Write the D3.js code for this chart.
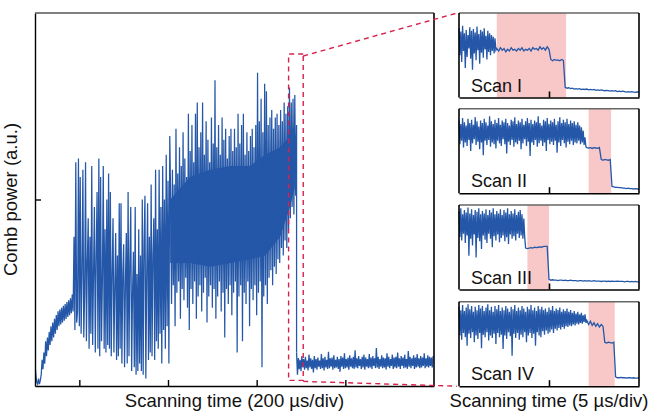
<!DOCTYPE html>
<html>
<head>
<meta charset="utf-8">
<script src="https://cdnjs.cloudflare.com/ajax/libs/d3/7.8.5/d3.min.js"></script>
<style>
  body { margin: 0; background: #fff; }
  text { font-family: "Liberation Sans", Arial, sans-serif; fill: #111; }
</style>
</head>
<body>
<div id="chart"></div>
<script>
// ---- main trace (time in µs, comb power in a.u.) ----
var rampStart = 0, rampStep = 2;
var rampPower = [6, 3, 1, 0.5, 2, 0.5, 1.5, 3, 7, 4.5, 9, 6, 12, 8, 13, 9.5, 14.5, 11, 16, 12,
  17, 13, 18, 14, 19, 15, 20, 16, 20.5, 16.5, 21, 17, 21.5, 17.5, 22, 18, 22.5, 18.5, 23, 19,
  23.5, 19.5, 24.5, 20];

var spikeStart = 88, spikeStep = 2;
var spikePower = [
  40, 15, 60, 17, 20, 61, 16, 56, 14, 30, 58, 13, 25, 60, 12, 33, 45, 10, 40, 14,
  59, 11, 30, 48, 9, 35, 52, 10, 61, 8, 56, 12, 28, 59, 10, 42, 9, 50, 11, 57,
  10, 52, 8, 30, 45, 9, 26, 41, 7, 35, 8, 49, 10, 49, 6, 30, 38, 5, 28, 41,
  6, 52, 8, 33, 48, 4, 25, 36, 5, 48, 3, 30, 4, 42, 6,
  35, 4, 50, 3, 38, 51, 2, 30, 49, 7, 40, 9, 54, 8, 35, 45, 7, 58, 12, 42,
  10, 58, 14, 48, 6, 59, 15, 50, 10, 62, 16, 55, 6, 67,
  50, 22, 58, 27, 54, 16, 69, 25, 57, 28, 64, 18, 59, 26, 68, 23, 61, 29, 56, 21,
  73, 15, 63, 26, 70, 22, 60, 28, 73, 18, 76, 24, 64, 27, 68, 20, 76, 25, 62, 29,
  71, 17, 66, 24, 60, 27, 72, 21, 65, 26, 82, 18, 64, 24, 70, 28, 62, 20, 72, 25,
  66, 13, 69, 26, 61, 22, 67, 27, 69, 19, 63, 25, 69, 28, 64, 9, 73, 24, 65, 27,
  70, 12, 73, 25, 62, 22, 68, 28, 63, 16, 67, 26, 69, 23, 64, 27, 70, 19, 84, 25,
  71, 28, 77, 5, 68, 24, 81, 27, 79, 22, 70, 29, 72, 31, 74, 27, 69, 32, 72, 30,
  73, 34, 70, 33, 74, 37, 71, 35, 76, 39, 73, 37, 75, 42, 80, 45, 76, 48, 77, 46,
  78, 51, 70];

// dense core of the oscillating part (hidden under the spikes)
var coreTimes = [305, 350, 395, 440, 485, 519, 553, 575, 586];
var coreUpper = [50, 56, 58, 59, 59, 62, 64, 67, 70];
var coreLower = [33, 33, 32, 33, 34, 35, 40, 48, 53];

var floorStart = 590, floorStep = 2;
var floorPower = [9, 3, 7.5, 4.5, 7, 4, 8, 5, 7.2, 4.4, 7.8, 4.8, 6.8, 4.2, 8.4, 5, 7.4, 4.6, 7, 3.6,
  8, 4.8, 7.2, 4.4, 7.6, 5.2, 6.8, 4.6, 8.6, 4.8, 7.4, 4.2, 7.8, 5, 7, 4.6, 9.2, 4.8, 7.4, 5.2,
  7.6, 4.4, 8.2, 4.8, 7, 5, 7.8, 4.6, 7.2, 3.8, 8, 5.2, 7.6, 4.6, 8.8, 4.8, 7.2, 5, 7.6, 4.4,
  8.2, 5.2, 7.4, 4.8, 7.8, 4.6, 9.6, 5, 7.4, 4.8, 8, 5.4, 7.2, 4.6, 7.8, 5, 8.4, 4.4, 7.6, 5.2,
  7.2, 4.8, 8.6, 5, 7.6, 4.6, 8, 5.4, 7.4, 4.8, 10.2, 5, 7.8, 4.6, 7.2, 5.2, 8.2, 4.8, 7.6, 5,
  7.4, 4.4, 8.8, 5.2, 7.8, 4.8, 7.2, 5.4, 8.4, 4.6, 7.6, 5, 7.8, 4.8, 9, 5.2, 7.4, 4.6, 8, 5.4,
  7.6, 4.8, 8.4, 5, 7.2, 4.6, 9.4, 5.2, 7.8, 4.8, 7.4, 5.4, 8.2, 4.6, 7.6, 5, 8.6, 5.2, 7.4, 4.8,
  8, 5, 7.6, 5.4, 8.8, 4.8, 7.4, 5.2, 8.2, 5, 7.8, 5.4, 7.6, 5, 8];

var mainTimeTicks = [100, 300, 500, 700];
var mainPowerTicks = [50];
var zoomTimes = [572, 605];
var zoomPowers = [1.5, 89];

// ---- zoomed scans (time in µs, normalised power) ----
var scanNames = ["Scan I", "Scan II", "Scan III", "Scan IV"];
var noiseStep = 0.1;   // fast sampled noisy part
var tailStep = 0.2;    // plateaus and floor after it

var scanINoise = [82, 50, 78, 42, 85, 55, 76, 35, 80, 48, 74, 58, 83, 46, 79, 33, 81, 52, 77, 44,
  84, 56, 75, 40, 80, 53, 78, 47, 82, 57, 73, 45, 79, 54, 76, 50, 74, 55, 72, 52,
  70, 56];
var scanITail = [58, 55, 59, 56, 58, 54, 57, 55, 59, 56, 57, 55, 58, 56, 59, 55, 57, 56, 58, 55,
  59, 57, 58, 56, 60, 57, 59, 56, 60, 57,
  45, 43.5, 45, 44, 44.5, 43.5, 45, 44,
  12, 11, 11.5, 10.5, 11, 10, 10.5, 10, 10.5, 9.5, 10, 9.5, 10, 9, 9.5, 9, 9.5, 8.5, 9, 8.5,
  9, 8.5, 8, 8.5, 8, 7.5, 8, 7.5, 8, 7, 7.5, 7, 7.5, 7, 6.5, 7, 6.5, 7, 6.5, 6, 6.5, 6.5];

var scanIINoise = [86, 58, 82, 62, 89, 54, 84, 60, 80, 56, 88, 63, 83, 50, 87, 59, 81, 64, 90, 57,
  85, 61, 79, 52, 86, 60, 83, 45, 88, 62, 84, 57, 80, 63, 91, 55, 85, 60, 82, 58,
  87, 53, 83, 62, 89, 59, 81, 56, 86, 64, 84, 58, 88, 47, 83, 61, 80, 57, 87, 63,
  85, 55, 90, 60, 82, 58, 86, 62, 84, 52, 88, 59, 81, 64, 85, 56, 89, 61, 83, 44,
  87, 60, 82, 57, 86, 63, 84, 55, 91, 59, 83, 62, 80, 56, 87, 60, 85, 50, 89, 63,
  82, 58, 86, 61, 84, 57, 88, 62, 81, 48, 85, 60, 90, 56, 83, 63, 87, 59, 84, 54,
  88, 61, 82, 58, 86, 62, 83, 57, 85, 60, 81, 59, 84, 62, 80, 58, 78, 60, 74, 57,
  66, 55];
var scanIITail = [54, 53.5, 54, 53, 54, 53.5, 53, 54,
  40, 39, 40, 39.5, 39, 40,
  8, 7.5, 7, 7, 6.5, 6.5, 6, 6, 5.5, 6, 5.5, 5.5, 5, 5.5, 5, 5];

var scanIIINoise = [93, 62, 96, 58, 89, 66, 94, 55, 91, 64, 97, 40, 90, 60, 95, 52, 88, 65, 94, 38,
  92, 61, 96, 57, 89, 48, 93, 64, 90, 59, 95, 55, 88, 66, 94, 60, 91, 50, 96, 63,
  89, 58, 93, 65, 90, 56, 95, 61, 88, 64, 94, 57, 91, 62, 96, 54, 89, 65, 93, 60,
  90, 63, 95, 58, 88, 66, 92, 61, 94, 64, 89, 60, 84, 62];
var scanIIITail = [49, 48.5, 49, 49.5, 49, 50, 49.5, 50, 50.5, 50, 51, 51, 51,
  12, 11, 11.5, 11, 11, 10.5, 11, 11, 10.5, 11, 10.5, 10.5, 11, 10.5, 10.5, 10.5, 10, 10.5, 10.5, 10,
  10.5, 10, 10.5, 10, 10, 10.5, 10, 10, 10, 9.5, 10, 10, 9.5, 10, 9.5, 10, 9.5, 9.5, 10, 9.5,
  9.5, 9.5, 9, 9.5, 9.5, 9, 9.5, 9, 9.5, 9, 9];

var scanIVNoise = [94, 60, 90, 55, 96, 63, 89, 58, 93, 48, 97, 62, 91, 57, 95, 64, 88, 52, 94, 60,
  90, 56, 96, 63, 92, 45, 95, 61, 89, 58, 93, 64, 97, 54, 90, 60, 94, 57, 88, 62,
  95, 50, 91, 63, 96, 58, 89, 61, 93, 44, 90, 60, 95, 56, 92, 64, 88, 59, 94, 36,
  91, 62, 96, 57, 89, 63, 93, 55, 90, 61, 95, 58, 92, 64, 88, 52, 94, 60, 91, 63,
  96, 57, 90, 62, 93, 48, 89, 64, 95, 60, 91, 58, 94, 65, 90, 61, 92, 66, 88, 62,
  93, 64, 90, 67, 95, 63, 89, 68, 92, 66, 90, 69, 93, 67, 88, 70, 91, 68, 89, 71,
  92, 70, 88, 72, 90, 71, 87, 73, 89, 72, 86, 74, 88, 73, 85, 75, 87, 74, 84, 76,
  85, 75];
var scanIVTail = [78, 73, 77, 72, 75, 71, 74, 70, 73, 71,
  52, 51, 52, 51.5, 51, 52,
  11, 10, 10, 10.5, 10, 10, 9.5, 10, 10, 9.5, 10, 9.5, 9.5, 10];

var scanNoise = [scanINoise, scanIINoise, scanIIINoise, scanIVNoise];
var scanTails = [scanITail, scanIITail, scanIIITail, scanIVTail];
var scanShade = [[4.2, 11.9], [14.4, 16.9], [7.6, 10.0], [14.4, 17.3]];
var scanTimeTicks = [10];

// ---- layout ----
var svgWidth = 649;
var svgHeight = 412;
var main = { left: 35, top: 13, width: 399, height: 373 };
var small = { left: 459, width: 180, height: 84.5, tops: [13, 108.7, 205, 301.7] };

var traceColor = "#2457a8";
var zoomColor = "#d8204c";

var svg = d3.select("#chart")
  .append("svg")
  .attr("width", svgWidth)
  .attr("height", svgHeight);

// main panel
var xMain = d3.scaleLinear().domain([0, 900]).range([0, main.width]);
var yMain = d3.scaleLinear().domain([0, 100]).range([main.height, 0]);

var mainGroup = svg.append("g")
  .attr("transform", `translate(${main.left}, ${main.top})`);

svg.append("defs").append("clipPath")
  .attr("id", "mainClip")
  .append("rect")
  .attr("width", main.width)
  .attr("height", main.height + 1);

var risePoints = [];
rampPower.forEach(function(v, i) { risePoints.push([rampStart + i * rampStep, v]); });
spikePower.forEach(function(v, i) { risePoints.push([spikeStart + i * spikeStep, v]); });
risePoints.push([floorStart, floorPower[0]]);

var floorPoints = floorPower.map((v, i) => [floorStart + i * floorStep, v]);

var mainLine = d3.line()
  .x(d => xMain(d[0]))
  .y(d => yMain(d[1]));

var coreArea = d3.area()
  .x((d, i) => xMain(coreTimes[i]))
  .y0((d, i) => yMain(coreLower[i]))
  .y1((d, i) => yMain(coreUpper[i]));

mainGroup.append("path")
  .datum(coreTimes)
  .attr("d", coreArea)
  .attr("fill", traceColor);

mainGroup.append("path")
  .datum(risePoints)
  .attr("clip-path", "url(#mainClip)")
  .attr("d", mainLine)
  .attr("fill", "none")
  .attr("stroke", traceColor)
  .attr("stroke-width", 1.25);

mainGroup.append("path")
  .datum(floorPoints)
  .attr("clip-path", "url(#mainClip)")
  .attr("d", mainLine)
  .attr("fill", "none")
  .attr("stroke", traceColor)
  .attr("stroke-width", 1.3);

// axes, ticks pointing inward
var bottomAxis = d3.axisBottom(xMain).tickValues(mainTimeTicks).tickSize(-6).tickSizeOuter(0).tickFormat("");
var leftAxis = d3.axisLeft(yMain).tickValues(mainPowerTicks).tickSize(-6).tickSizeOuter(0).tickFormat("");

mainGroup.append("g")
  .attr("transform", `translate(0, ${main.height})`)
  .call(bottomAxis)
  .call(g => g.selectAll("path, line").attr("stroke", "#000").attr("stroke-width", 1.4));

mainGroup.append("g")
  .call(leftAxis)
  .call(g => g.selectAll("path, line").attr("stroke", "#000").attr("stroke-width", 1.4));

mainGroup.append("line")
  .attr("x1", 0).attr("x2", main.width)
  .attr("y1", 0).attr("y2", 0)
  .attr("stroke", "#555").attr("stroke-width", 1.4);

mainGroup.append("line")
  .attr("x1", main.width).attr("x2", main.width)
  .attr("y1", 0).attr("y2", main.height)
  .attr("stroke", "#000").attr("stroke-width", 1.6);

// dashed zoom box + connectors
var zx0 = xMain(zoomTimes[0]), zx1 = xMain(zoomTimes[1]);
var zyTop = yMain(zoomPowers[1]), zyBot = yMain(zoomPowers[0]);

mainGroup.append("path")
  .attr("d", `M${zx1},${zyTop}H${zx0}V${zyBot}H${zx1}V${zyTop}`)
  .attr("fill", "none")
  .attr("stroke", zoomColor)
  .attr("stroke-width", 1.4)
  .attr("stroke-dasharray", "5,4");

var lastTop = small.tops[small.tops.length - 1];
svg.append("line")
  .attr("x1", main.left + zx1).attr("y1", main.top + zyTop + 2)
  .attr("x2", small.left - 2).attr("y2", small.tops[0])
  .attr("stroke", zoomColor).attr("stroke-width", 1.4).attr("stroke-dasharray", "5,4");
svg.append("line")
  .attr("x1", main.left + zx1).attr("y1", main.top + zyBot + 1)
  .attr("x2", small.left - 2).attr("y2", lastTop + small.height)
  .attr("stroke", zoomColor).attr("stroke-width", 1.4).attr("stroke-dasharray", "5,4");

// small panels
var xScan = d3.scaleLinear().domain([0, 20]).range([0, small.width]);
var yScan = d3.scaleLinear().domain([0, 100]).range([small.height, 0]);
var scanLine = d3.line()
  .x(d => xScan(d[0]))
  .y(d => yScan(d[1]));

scanNoise.forEach(function(noise, k) {
  var tailStart = noise.length * noiseStep;
  var points = noise.map((v, i) => [i * noiseStep, v])
    .concat(scanTails[k].map((v, i) => [tailStart + i * tailStep, v]));

  var g = svg.append("g")
    .attr("transform", `translate(${small.left}, ${small.tops[k]})`);

  g.append("rect")
    .attr("x", xScan(scanShade[k][0]))
    .attr("width", xScan(scanShade[k][1]) - xScan(scanShade[k][0]))
    .attr("y", 0)
    .attr("height", small.height)
    .attr("fill", "#f8c8c9");

  g.append("path")
    .datum(points)
    .attr("d", scanLine)
    .attr("fill", "none")
    .attr("stroke", traceColor)
    .attr("stroke-width", 1.3);

  g.append("text")
    .attr("x", 12)
    .attr("y", small.height - 6)
    .attr("font-size", "18px")
    .text(scanNames[k]);

  g.append("g")
    .attr("transform", `translate(0, ${small.height})`)
    .call(d3.axisBottom(xScan).tickValues(scanTimeTicks).tickSize(-6).tickSizeOuter(0).tickFormat(""))
    .call(g2 => g2.selectAll("path, line").attr("stroke", "#000").attr("stroke-width", 1.6));

  g.append("line").attr("x1", 0).attr("x2", small.width).attr("y1", 0).attr("y2", 0)
    .attr("stroke", "#666").attr("stroke-width", 1.4);
  g.append("line").attr("x1", 0).attr("x2", 0).attr("y1", 0).attr("y2", small.height)
    .attr("stroke", "#000").attr("stroke-width", 1.6);
  g.append("line").attr("x1", small.width).attr("x2", small.width).attr("y1", 0).attr("y2", small.height)
    .attr("stroke", "#000").attr("stroke-width", 1.6);
});

// axis labels
svg.append("text")
  .attr("x", main.left + main.width / 2)
  .attr("y", 407)
  .attr("text-anchor", "middle")
  .attr("font-size", "18.5px")
  .text("Scanning time (200 µs/div)");

svg.append("text")
  .attr("x", small.left + small.width / 2)
  .attr("y", 407)
  .attr("text-anchor", "middle")
  .attr("font-size", "18.5px")
  .text("Scanning time (5 µs/div)");

svg.append("text")
  .attr("transform", `translate(17, ${main.top + main.height / 2}) rotate(-90)`)
  .attr("text-anchor", "middle")
  .attr("font-size", "18.5px")
  .text("Comb power (a.u.)");
</script>
</body>
</html>
